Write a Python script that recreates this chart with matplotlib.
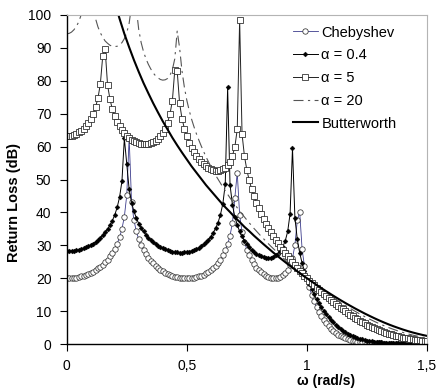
import numpy as np
import matplotlib
matplotlib.use('Agg')
import matplotlib.pyplot as plt

plt.rcParams['font.family'] = ['Liberation Sans', 'DejaVu Sans']

# frequency grid of the sampled responses (rad/s)
w = np.round(np.arange(151) * 0.01, 2)
w_a20 = np.round(np.concatenate([np.arange(101) * 0.01, 1.0 + np.arange(1, 26) * 0.02]), 2)
w_butter = np.round(0.2 + np.arange(66) * 0.02, 2)

# return loss values (dB)
rl_cheb = [
    20.0, 20.0, 20.05, 20.1, 20.2, 20.4, 20.55, 20.8, 21.0, 21.3,
    21.65, 22.0, 22.5, 22.95, 23.5, 24.15, 24.85, 25.65, 26.6, 27.7,
    28.95, 30.5, 32.4, 35.0, 38.7, 45.2, 62.7, 43.2, 37.6, 34.2,
    31.8, 30.0, 28.5, 27.25, 26.2, 25.25, 24.5, 23.75, 23.1, 22.6,
    22.1, 21.7, 21.3, 21.0, 20.75, 20.5, 20.3, 20.2, 20.1, 20.0,
    20.0, 20.0, 20.1, 20.2, 20.35, 20.55, 20.8, 21.1, 21.5, 21.95,
    22.45, 23.1, 23.8, 24.7, 25.65, 26.9, 28.45, 30.35, 32.95, 36.85,
    44.4, 52.1, 39.2, 34.1, 31.0, 28.7, 26.9, 25.4, 24.3, 23.25,
    22.45, 21.75, 21.15, 20.75, 20.4, 20.15, 20.0, 20.0, 20.15, 20.4,
    20.85, 21.5, 22.5, 23.95, 26.1, 30.0, 37.6, 40.2, 28.8, 23.6,
    20.0, 17.23, 14.95, 13.0, 11.33, 9.84, 8.53, 7.36, 6.34, 5.44,
    4.64, 3.97, 3.36, 2.85, 2.41, 2.04, 1.72, 1.46, 1.23, 1.04,
    0.88, 0.75, 0.64, 0.55, 0.47, 0.40, 0.35, 0.30, 0.26, 0.22,
    0.19, 0.17, 0.15, 0.13, 0.11, 0.10, 0.09, 0.08, 0.07, 0.06,
    0.05, 0.05, 0.04, 0.04, 0.03, 0.03, 0.03, 0.02, 0.02, 0.02, 0.02,
]
rl_a04 = [
    28.2, 28.2, 28.3, 28.35, 28.5, 28.6, 28.8, 29.1, 29.4, 29.7,
    30.1, 30.5, 31.0, 31.6, 32.3, 33.0, 33.9, 34.9, 36.1, 37.5,
    39.2, 41.5, 44.6, 49.5, 62.5, 54.6, 47.0, 43.0, 40.3, 38.3,
    36.6, 35.3, 34.2, 33.2, 32.3, 31.6, 31.0, 30.4, 29.9, 29.5,
    29.1, 28.8, 28.5, 28.3, 28.1, 27.9, 27.85, 27.8, 27.8, 27.85,
    27.95, 28.1, 28.3, 28.55, 28.85, 29.25, 29.7, 30.3, 30.9, 31.7,
    32.6, 33.8, 35.2, 36.9, 39.3, 42.6, 48.5, 78.0, 48.4, 42.3,
    38.7, 36.2, 34.2, 32.7, 31.4, 30.3, 29.4, 28.6, 27.9, 27.4,
    26.9, 26.6, 26.35, 26.2, 26.15, 26.25, 26.5, 26.9, 27.5, 28.3,
    29.6, 31.4, 34.2, 39.6, 59.5, 38.4, 31.8, 27.7, 24.6, 22.1,
    20.0, 18.2, 16.6, 15.1, 13.6, 12.35, 11.2, 10.1, 9.1, 8.2,
    7.3, 6.55, 5.8, 5.2, 4.6, 4.0, 3.55, 3.1, 2.75, 2.4,
    2.1, 1.85, 1.6, 1.4, 1.25, 1.05, 0.95, 0.82, 0.72, 0.63,
    0.55, 0.49, 0.43, 0.38, 0.33, 0.29, 0.26, 0.23, 0.20, 0.18,
    0.16, 0.14, 0.13, 0.11, 0.10, 0.09, 0.08, 0.07, 0.07, 0.06, 0.05,
]
rl_a5 = [
    63.2, 63.2, 63.3, 63.5, 63.9, 64.3, 64.8, 65.4, 66.2, 67.2,
    68.4, 70.0, 72.0, 74.7, 79.0, 87.5, 89.7, 78.8, 74.4, 71.4,
    69.3, 67.6, 66.2, 65.1, 64.1, 63.3, 62.6, 62.1, 61.6, 61.3,
    61.0, 60.8, 60.7, 60.7, 60.8, 61.0, 61.3, 61.8, 62.4, 63.2,
    64.2, 65.5, 67.3, 69.9, 74.0, 83.3, 83.0, 73.2, 68.5, 65.5,
    63.1, 61.2, 59.6, 58.3, 57.2, 56.2, 55.4, 54.7, 54.1, 53.6,
    53.2, 52.9, 52.7, 52.7, 52.8, 53.1, 53.6, 54.3, 55.4, 57.2,
    59.9, 65.2, 98.5, 63.8, 57.1, 52.9, 49.7, 47.1, 44.9, 42.9,
    41.2, 39.5, 38.0, 36.6, 35.3, 34.1, 32.9, 31.7, 30.6, 29.6,
    28.6, 27.6, 26.65, 25.7, 24.8, 24.0, 23.1, 22.3, 21.5, 20.8,
    20.0, 19.3, 18.5, 17.8, 17.1, 16.5, 15.8, 15.15, 14.5, 13.9,
    13.3, 12.7, 12.1, 11.55, 11.0, 10.5, 9.95, 9.45, 8.95, 8.5,
    8.0, 7.55, 7.1, 6.7, 6.3, 5.9, 5.55, 5.2, 4.85, 4.55,
    4.2, 3.9, 3.65, 3.4, 3.15, 2.9, 2.7, 2.5, 2.3, 2.15,
    1.95, 1.8, 1.7, 1.55, 1.45, 1.3, 1.2, 1.1, 1.05, 0.95, 0.85,
]
rl_a20 = [
    94.3, 94.4, 94.8, 95.5, 96.5, 97.9, 100.0, 103.1, 108.9, 130.0,
    108.5, 102.4, 98.9, 96.4, 94.6, 93.2, 92.1, 91.4, 90.8, 90.5,
    90.4, 90.5, 90.9, 91.6, 92.8, 94.6, 97.5, 102.9, 130.0, 101.9,
    95.5, 91.6, 88.8, 86.7, 85.0, 83.6, 82.4, 81.5, 80.9, 80.4,
    80.2, 80.3, 80.7, 81.7, 83.4, 86.7, 95.1, 90.0, 83.0, 78.0,
    74.1, 71.0, 68.3, 66.0, 63.9, 62.0, 60.2, 58.5, 56.9, 55.4,
    54.0, 52.6, 51.3, 50.1, 48.9, 47.7, 46.6, 45.5, 44.4, 43.4,
    42.4, 41.4, 40.4, 39.5, 38.6, 37.7, 36.8, 36.0, 35.1, 34.3,
    33.5, 32.7, 31.95, 31.2, 30.45, 29.7, 29.0, 28.3, 27.6, 26.9,
    26.2, 25.55, 24.9, 24.25, 23.6, 23.0, 22.4, 21.8, 21.2, 20.6,
    20.0,
    18.86, 17.75, 16.67, 15.62, 14.60, 13.61, 12.65, 11.72, 10.83, 9.97,
    9.14, 8.35, 7.60, 6.89, 6.22, 5.59, 5.00, 4.46, 3.96, 3.50,
    3.09, 2.71, 2.38, 2.08, 1.81,
]
rl_butter = [
    103.8, 98.9, 94.3, 90.2, 86.3, 82.7, 79.3, 76.2, 73.2, 70.4,
    67.7, 65.2, 62.7, 60.4, 58.2, 56.1, 54.0, 52.1, 50.2, 48.3,
    46.6, 44.9, 43.2, 41.6, 40.1, 38.5, 37.1, 35.6, 34.3, 32.9,
    31.6, 30.3, 29.05, 27.8, 26.6, 25.45, 24.3, 23.2, 22.1, 21.0,
    20.0, 18.98, 17.98, 17.0, 16.05, 15.13, 14.22, 13.33, 12.47, 11.64,
    10.83, 10.05, 9.29, 8.57, 7.87, 7.20, 6.57, 5.97, 5.41, 4.89,
    4.39, 3.93, 3.51, 3.13, 2.78, 2.46,
]

fig = plt.figure(figsize=(4.39, 3.88), dpi=100)
ax = fig.add_axes([66.7 / 439, 1 - 344 / 388, 360.3 / 439, 329 / 388])

ax.plot(w, rl_cheb, color='#3c3c8c', lw=0.6, marker='o', ms=3.9,
        mfc='white', mec='#333333', mew=0.55, label='Chebyshev')
ax.plot(w, rl_a04, color='black', lw=0.7, marker='D', ms=2.5,
        mfc='black', mec='black', mew=0.3, label='\u03b1 = 0.4')
ax.plot(w, rl_a5, color='#222222', lw=0.7, marker='s', ms=3.7,
        mfc='white', mec='#222222', mew=0.55, label='\u03b1 = 5')
ax.plot(w_a20, rl_a20, color='#555555', lw=0.8, ls=(0, (9, 4, 2, 4)),
        label='\u03b1 = 20')
ax.plot(w_butter, rl_butter, color='black', lw=1.5, label='Butterworth')

ax.set_xlim(0, 1.5)
ax.set_ylim(0, 100)
ax.set_xticks([0, 0.5, 1, 1.5])
ax.set_xticklabels(['0', '0,5', '1', '1,5'])
ax.set_yticks(np.arange(0, 101, 10))
ax.tick_params(axis='both', direction='out', length=5, width=0.8,
               labelsize=10, color='black')
ax.tick_params(axis='x', pad=6)
ax.tick_params(axis='y', pad=6)

for s in ['left', 'bottom']:
    ax.spines[s].set_color('black')
    ax.spines[s].set_linewidth(1.0)
for s in ['top', 'right']:
    ax.spines[s].set_color('#b4b4b4')
    ax.spines[s].set_linewidth(0.8)

fig.text(14 / 439, 1 - 202 / 388, 'Return Loss (dB)', rotation=90,
         ha='center', va='center', fontsize=10.5, fontweight='bold')
fig.text(326 / 439, 1 - 380.5 / 388, '\u03c9 (rad/s)', ha='center',
         va='center', fontsize=10, fontweight='bold')

ax.legend(loc='upper left', bbox_to_anchor=(0.628, 0.968), frameon=False,
          borderpad=0, borderaxespad=0, handlelength=1.7, handletextpad=0.25,
          labelspacing=0.6, fontsize=10.5, numpoints=1)

fig.savefig('out.png', dpi=100)
